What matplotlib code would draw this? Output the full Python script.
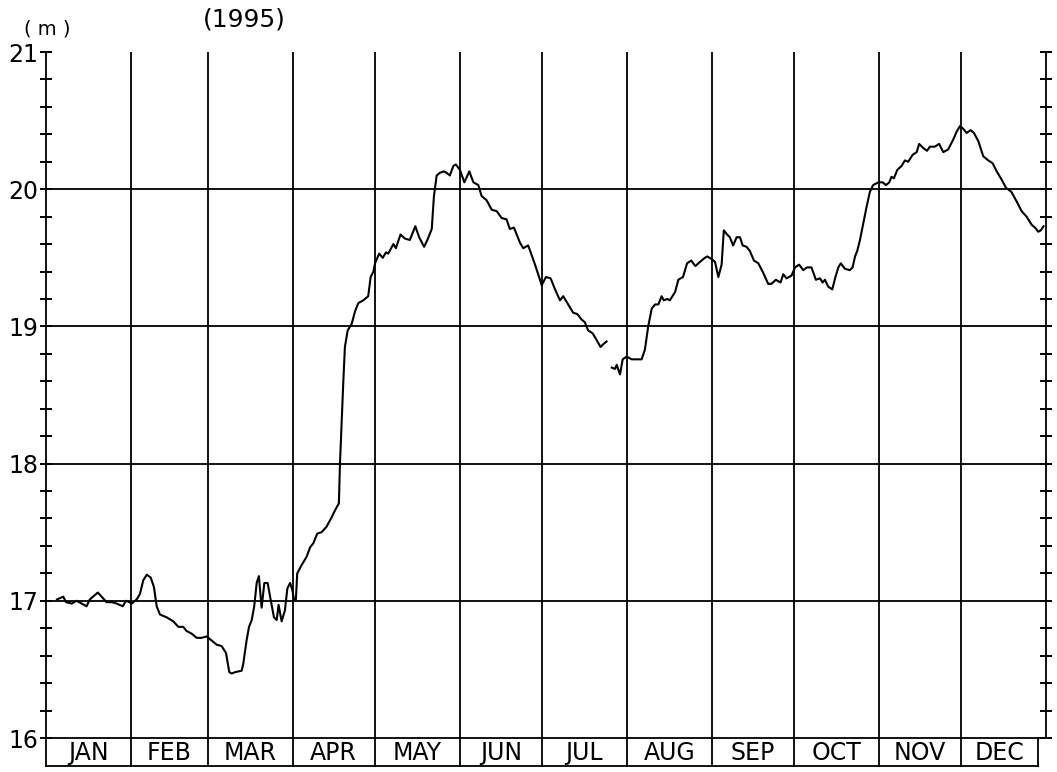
import matplotlib
matplotlib.use("Agg")
import matplotlib.pyplot as plt
import numpy as np

plt.rcParams['font.family'] = ['DejaVu Sans']

# ---- data (day of year, water level in m) ----
seg1_days = [4, 6.3, 7.3, 9.4, 11.2, 13, 14.8, 16, 18.9, 20.3, 22.1, 24, 25.8, 28, 29.2, 30.4, 31.3,
             33.1, 34.3, 35.5, 36.8, 38.2, 39.4, 40.4, 41.6, 44, 46.5, 48.3, 50.1, 51.3, 53.2, 55, 56.8,
             58.6, 60.5, 62.3, 64.1, 65.7, 66.9, 67.8, 69, 71.4, 72, 73.2, 74.1, 75.1, 76, 76.9, 77.7,
             78.7, 79.7, 80.9, 81.8, 83.2, 84.2, 84.9, 86, 87.2, 88.1, 89.1, 89.9, 90.5, 91.2, 91.7,
             93.3, 95.1, 96.4, 97.6, 99, 100.6, 102.4, 104.3, 105.5, 106.9, 107.3, 107.9, 108.5, 109.1,
             110.1, 111.6, 112.8, 114, 115.8, 117.6, 118.5, 119.5, 120.1, 121.6, 122.9, 124.1, 124.9,
             126.8, 127.7, 129.4, 131, 132.8, 134.8, 136.2, 138, 139.2, 140.8, 141.6, 142.6, 143.8,
             145.3, 146.2, 147.4, 148.7, 149.6, 151.1, 152.7, 154.5, 156, 157.8, 159, 160.8, 162.7,
             164.5, 166.3, 168.1, 169.3, 170.8, 173, 174.2, 176, 178.5, 180.3, 180.9, 182.5, 184.2,
             185.8, 187.6, 188.8, 190.6, 192.4, 193.9, 195.5, 196.7, 197.9, 199.5, 201, 202.4, 203.4,
             204.6]
seg1_vals = [17.01, 17.03, 16.99, 16.98, 17.00, 16.98, 16.96, 17.01, 17.06, 17.03, 16.99, 16.99, 16.98,
             16.96, 17.00, 16.99, 16.98, 17.01, 17.05, 17.15, 17.19, 17.17, 17.10, 16.96, 16.90, 16.88,
             16.85, 16.81, 16.81, 16.78, 16.76, 16.73, 16.73, 16.74, 16.71, 16.68, 16.67, 16.62, 16.48,
             16.47, 16.48, 16.49, 16.54, 16.71, 16.81, 16.86, 16.96, 17.13, 17.18, 16.95, 17.13, 17.13,
             17.03, 16.88, 16.86, 16.97, 16.85, 16.93, 17.09, 17.13, 17.08, 17.01, 17.01, 17.20, 17.26,
             17.32, 17.39, 17.42, 17.49, 17.50, 17.54, 17.61, 17.66, 17.71, 18.00, 18.29, 18.59, 18.85,
             18.97, 19.02, 19.11, 19.17, 19.19, 19.22, 19.36, 19.40, 19.46, 19.53, 19.50, 19.54, 19.53,
             19.60, 19.57, 19.67, 19.64, 19.63, 19.73, 19.65, 19.58, 19.63, 19.71, 19.95, 20.10, 20.12,
             20.13, 20.12, 20.10, 20.17, 20.18, 20.14, 20.05, 20.13, 20.05, 20.03, 19.95, 19.92, 19.85,
             19.84, 19.79, 19.78, 19.71, 19.72, 19.61, 19.57, 19.59, 19.45, 19.34, 19.30, 19.36, 19.35,
             19.27, 19.19, 19.22, 19.16, 19.10, 19.09, 19.05, 19.03, 18.97, 18.95, 18.90, 18.85, 18.87,
             18.89]

seg2_days = [206.5, 207.7, 208.3, 209.5, 210.5, 211.9, 213.8, 217.4, 218.6, 219.8, 221.1, 222.3, 223.5,
             224.7, 225.5, 226.8, 227.7, 229.6, 230.8, 232.5, 234, 235.5, 237, 238.7, 240.5, 241.4, 243,
             244.2, 245.4, 246.6, 247.4, 248.6, 249.6, 250.8, 252.1, 253.3, 254.3, 255.7, 256.9, 258.4,
             260, 261.8, 263.6, 264.8, 266.4, 268.1, 269.1, 270.3, 272.1, 273.4, 274.9, 276.4, 277.8,
             279.4, 281, 282.5, 283.5, 284.3, 285.5, 287, 288, 289.2, 290.1, 291.6, 293.4, 294.4, 295.3,
             296.1, 297.1, 298.3, 299.5, 300.7, 301.9, 303.8, 305.4, 306.6, 307.8, 308.6, 309.5, 310.7,
             312.3, 313.5, 314.7, 316.3, 317.8, 318.7, 320.2, 321.6, 322.6, 324.4, 326, 327.5, 329.3,
             331.1, 332.4, 333.6, 334.8, 336, 337.5, 338.7, 340.3, 342.1, 343.9, 345.5, 347, 348.8,
             350.4, 352.4, 354.3, 356.1, 357.9, 359.8, 361, 362.2, 363.1, 364.1]
seg2_vals = [18.70, 18.69, 18.72, 18.65, 18.76, 18.78, 18.76, 18.76, 18.83, 19.00, 19.13, 19.16, 19.16,
             19.22, 19.19, 19.20, 19.19, 19.25, 19.34, 19.36, 19.46, 19.48, 19.44, 19.47, 19.50, 19.51,
             19.49, 19.47, 19.36, 19.45, 19.70, 19.67, 19.65, 19.59, 19.65, 19.65, 19.59, 19.58, 19.55,
             19.48, 19.46, 19.39, 19.31, 19.31, 19.34, 19.32, 19.38, 19.35, 19.37, 19.43, 19.45, 19.41,
             19.43, 19.43, 19.34, 19.35, 19.32, 19.34, 19.29, 19.27, 19.35, 19.43, 19.46, 19.42, 19.41,
             19.43, 19.51, 19.55, 19.63, 19.75, 19.87, 19.98, 20.03, 20.05, 20.05, 20.03, 20.05, 20.09,
             20.08, 20.14, 20.17, 20.21, 20.20, 20.25, 20.27, 20.33, 20.30, 20.28, 20.31, 20.31, 20.33,
             20.27, 20.29, 20.36, 20.42, 20.46, 20.44, 20.41, 20.43, 20.41, 20.35, 20.24, 20.21, 20.19,
             20.13, 20.07, 20.01, 19.98, 19.91, 19.84, 19.80, 19.74, 19.72, 19.69, 19.70, 19.73]

months = ['JAN', 'FEB', 'MAR', 'APR', 'MAY', 'JUN', 'JUL', 'AUG', 'SEP', 'OCT', 'NOV', 'DEC']
month_days = [31, 28, 31, 30, 31, 30, 31, 31, 30, 31, 30, 31]
y_major = [16, 17, 18, 19, 20, 21]

W, H = 1057, 772
fig = plt.figure(figsize=(W / 100, H / 100), dpi=100)
ax = fig.add_axes([46 / W, (H - 738) / H, 1000 / W, 686 / H])
ax.set_xlim(0, 365)
ax.set_ylim(16, 21)

lw = 1.5
starts = np.concatenate([[0], np.cumsum(month_days)])
for s in starts[1:-1]:
    ax.axvline(s, color='black', lw=1.3)
for v in y_major[1:-1]:
    ax.axhline(v, color='black', lw=1.3)

ax.plot(seg1_days, seg1_vals, color='black', lw=lw)
ax.plot(seg2_days, seg2_vals, color='black', lw=lw)

ax.spines['top'].set_visible(False)
for side in ['left', 'right', 'bottom']:
    ax.spines[side].set_linewidth(1.3)

ax.set_xticks([])
ax.set_yticks(y_major)
ax.set_yticks(np.arange(16, 21.01, 0.2), minor=True)
ax.tick_params(axis='y', which='both', direction='inout', length=9, width=1.4,
               left=True, right=True, labelleft=True, labelright=False)
ax.tick_params(axis='y', which='major', labelsize=17, pad=1)
ax.set_yticklabels([str(v) for v in y_major])

# month label boxes
ax2 = fig.add_axes([46 / W, (H - 766) / H, 1000 / W, 28 / H])
ax2.set_xlim(0, 365)
ax2.set_ylim(0, 1)
ax2.axis('off')
box_end = 362
for s in list(starts[:-1]) + [box_end]:
    ax2.plot([s, s], [0, 1], color='black', lw=1.3, clip_on=False)
ax2.plot([0, box_end], [0, 0], color='black', lw=1.3, clip_on=False)
for i, m in enumerate(months):
    right = starts[i + 1] if i < 11 else box_end
    ax2.text((starts[i] + right) / 2, 0.47, m, ha='center', va='center', fontsize=17)

fig.text(47 / W, 1 - 29 / H, '( m )', ha='center', va='center', fontsize=14)
fig.text(244 / W, 1 - 19 / H, '(1995)', ha='center', va='center', fontsize=18)

fig.savefig('out.png', dpi=100)
